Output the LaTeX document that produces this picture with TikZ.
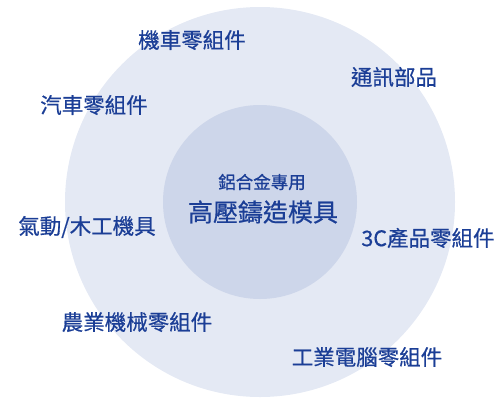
\documentclass[tikz,border=0pt]{standalone}
\usepackage{fontspec}
\setmainfont[FakeBold=0.6]{Noto Sans CJK TC}
\usepackage{xcolor}
\definecolor{ringfill}{HTML}{E4E9F4}
\definecolor{corefill}{HTML}{CDD6EA}
\definecolor{labelblue}{HTML}{1B3E96}
\usetikzlibrary{positioning}

\begin{document}
\begin{tikzpicture}[x=1pt,y=-1pt,
    field/.style={text=labelblue,font=\fontsize{21.5}{24}\selectfont,inner sep=0pt}]
    \useasboundingbox (0,0) rectangle (500,400);
    \begin{scope}
        \clip (0,0) rectangle (500,400);
        \node[circle,fill=ringfill,minimum size=390pt,inner sep=0pt] (ring) at (260,202) {};
        \node[circle,fill=corefill,minimum size=194pt,inner sep=0pt] (core) at (260,202) {};
    \end{scope}

    \node[text=labelblue,font=\fontsize{17.5}{20}\selectfont,inner sep=0pt] (sub) at (262,182) {鋁合金專用};
    \node[text=labelblue,font=\fontsize{25}{28}\selectfont,inner sep=0pt] (title) at (263,212) {高壓鑄造模具};

    \node[field] (moto)  at (192,40)  {機車零組件};
    \node[field] (comm)  at (394,77)  {通訊部品};
    \node[field] (car)   at (94,105)  {汽車零組件};
    \node[field] (tool)  at (87,227)  {氣動/木工機具};
    \node[field] (cpart) at (428,238) {3C產品零組件};
    \node[field] (farm)  at (137,322) {農業機械零組件};
    \node[field] (ipc)   at (367,357) {工業電腦零組件};
\end{tikzpicture}
\end{document}
